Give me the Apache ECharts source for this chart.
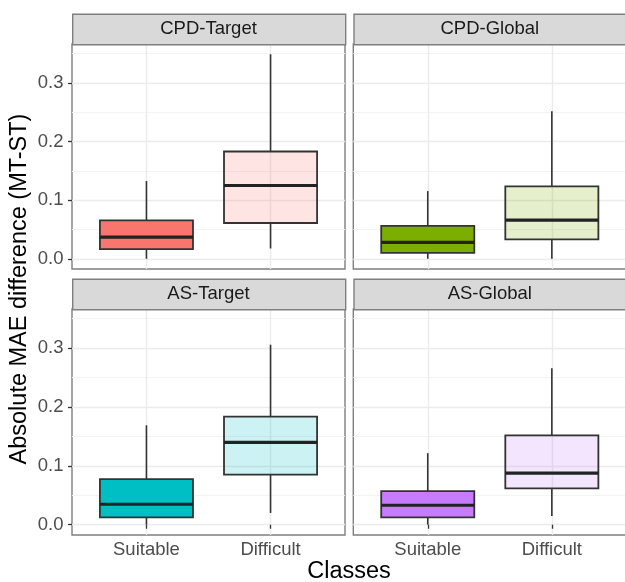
<!DOCTYPE html>
<html>
<head>
<meta charset="utf-8">
<script src="https://cdn.jsdelivr.net/npm/echarts@6/dist/echarts.min.js"></script>
<style>
  html, body { margin: 0; padding: 0; background: #ffffff; }
  #chart { width: 625px; height: 582px; }
</style>
</head>
<body>
<div id="chart"></div>
<script>
// Facet titles and x categories
const panels = ['CPD-Target', 'CPD-Global', 'AS-Target', 'AS-Global'];
const classes = ['Suitable', 'Difficult'];

// Box statistics per class: [lower whisker, Q1, median, Q3, upper whisker]
const cpdTargetSuitable  = [0.000, 0.0165, 0.0370, 0.0655, 0.1326];
const cpdTargetDifficult = [0.0176, 0.0610, 0.1250, 0.1830, 0.3490];
const cpdGlobalSuitable  = [0.000, 0.0102, 0.0279, 0.0563, 0.1155];
const cpdGlobalDifficult = [0.000, 0.0330, 0.0660, 0.1235, 0.2516];
const asTargetSuitable   = [0.000, 0.0125, 0.0348, 0.0776, 0.1689];
const asTargetDifficult  = [0.0200, 0.0850, 0.1398, 0.1837, 0.3058];
const asGlobalSuitable   = [0.000, 0.0125, 0.0331, 0.0570, 0.1215];
const asGlobalDifficult  = [0.0148, 0.0616, 0.0878, 0.1517, 0.2658];

// Axis ticks
const yTicks = [0, 0.1, 0.2, 0.3];
const yMinorTicks = [0.05, 0.15, 0.25, 0.35];
const xTicks = [1, 2];

// Fill colours per panel: solid for Suitable, translucent for Difficult
const panelColors = ['#F8766D', '#7CAE00', '#00BFC4', '#C77CFF'];
const panelColorsLight = ['rgba(248,118,109,0.2)', 'rgba(124,174,0,0.2)', 'rgba(0,191,196,0.2)', 'rgba(199,124,255,0.2)'];

const panelStats = [
  [cpdTargetSuitable, cpdTargetDifficult],
  [cpdGlobalSuitable, cpdGlobalDifficult],
  [asTargetSuitable, asTargetDifficult],
  [asGlobalSuitable, asGlobalDifficult]
];

// Shared y range (data range plus 5% padding)
const yMin = -0.01745;
const yMax = 0.36645;

// Layout of the 2x2 facet grid
const colLeft = [72, 353.3];
const panelW = 273;
const rowTop = [44, 309];
const panelH = [225, 226];
const stripH = 30.5;

const fontFamily = '"Liberation Sans", Arial, Helvetica, sans-serif';
const borderColor = '#7f7f7f';

const grids = [], xAxes = [], yAxes = [], series = [], graphics = [];

panels.forEach((name, i) => {
  const col = i % 2, row = Math.floor(i / 2);
  const left = colLeft[col], top = rowTop[row], h = panelH[row];
  grids.push({
    left: left, top: top, width: panelW, height: h,
    show: true, backgroundColor: '#ffffff',
    borderColor: borderColor, borderWidth: 1.4,
    containLabel: false, outerBoundsMode: 'none'
  });
  const showX = row === 1, showY = col === 0;
  xAxes.push({
    type: 'value', gridIndex: i, min: 0.4, max: 2.6,
    axisLine: { show: false },
    axisTick: { show: showX, customValues: xTicks, length: 4, lineStyle: { color: '#333333', width: 1.3 } },
    axisLabel: {
      show: showX, customValues: xTicks, margin: 5,
      color: '#4D4D4D', fontSize: 18.5, fontFamily: fontFamily,
      formatter: v => classes[Math.round(v) - 1]
    },
    splitLine: { show: true, lineStyle: { color: '#EBEBEB', width: 1.4 } }
  });
  // major y axis
  yAxes.push({
    type: 'value', gridIndex: i, min: yMin, max: yMax, position: 'left',
    axisLine: { show: false },
    axisTick: { show: showY, customValues: yTicks, length: 4, lineStyle: { color: '#333333', width: 1.3 } },
    axisLabel: {
      show: showY, customValues: yTicks, margin: 8.5,
      color: '#4D4D4D', fontSize: 18.5, fontFamily: fontFamily,
      formatter: v => v.toFixed(1)
    },
    splitLine: { show: true, lineStyle: { color: '#EBEBEB', width: 1.4 } }
  });
  // minor y gridlines
  yAxes.push({
    type: 'value', gridIndex: i, min: yMin, max: yMax, position: 'right',
    axisLine: { show: false },
    axisTick: { show: false, customValues: yMinorTicks },
    axisLabel: { show: false, customValues: yMinorTicks },
    splitLine: { show: true, lineStyle: { color: '#F3F3F3', width: 1 } }
  });

  const data = panelStats[i].map((s, k) => ({
    value: [xTicks[k]].concat(s),
    itemStyle: { color: k === 0 ? panelColors[i] : panelColorsLight[i] }
  }));
  series.push({
    type: 'custom', name: name,
    xAxisIndex: i, yAxisIndex: 2 * i,
    encode: { x: 0, y: [1, 2, 3, 4, 5] },
    silent: true, z: 5,
    data: data,
    renderItem: (params, api) => {
      const x = api.value(0);
      const pLo = api.coord([x, api.value(1)]);
      const pQ1 = api.coord([x, api.value(2)]);
      const pMed = api.coord([x, api.value(3)]);
      const pQ3 = api.coord([x, api.value(4)]);
      const pHi = api.coord([x, api.value(5)]);
      const bw = api.size([1, 0])[0] * 0.75;
      const cx = pMed[0];
      const line = { stroke: '#333333', lineWidth: 1.6 };
      return {
        type: 'group',
        children: [
          { type: 'line', shape: { x1: cx, y1: pHi[1], x2: cx, y2: pQ3[1] }, style: line },
          { type: 'line', shape: { x1: cx, y1: pQ1[1], x2: cx, y2: pLo[1] }, style: line },
          { type: 'rect', shape: { x: cx - bw / 2, y: pQ3[1], width: bw, height: pQ1[1] - pQ3[1] },
            style: { fill: api.visual('color'), stroke: '#333333', lineWidth: 1.8 } },
          { type: 'line', shape: { x1: cx - bw / 2, y1: pMed[1], x2: cx + bw / 2, y2: pMed[1] },
            style: { stroke: '#222222', lineWidth: 3.2 } }
        ]
      };
    }
  });

  // facet strip
  graphics.push({
    type: 'rect', left: left, top: top - stripH, z: 10,
    shape: { width: panelW, height: stripH },
    style: { fill: '#D9D9D9', stroke: borderColor, lineWidth: 1.4 }
  });
  graphics.push({
    type: 'text', x: left + panelW / 2, y: top - stripH / 2, z: 11,
    style: {
      text: name, fill: '#1A1A1A', fontSize: 18.5, fontFamily: fontFamily,
      align: 'center', verticalAlign: 'middle'
    }
  });
});

// axis titles
graphics.push({
  type: 'text', x: 20, y: 289, rotation: Math.PI / 2, z: 11,
  style: {
    text: 'Absolute MAE difference (MT-ST)', fill: '#000000', fontSize: 23.5, fontFamily: fontFamily,
    align: 'center', verticalAlign: 'middle'
  }
});
graphics.push({
  type: 'text', x: 349, y: 572, z: 11,
  style: {
    text: 'Classes', fill: '#000000', fontSize: 23.5, fontFamily: fontFamily,
    align: 'center', verticalAlign: 'middle'
  }
});

const chart = echarts.init(document.getElementById('chart'), null, { renderer: 'canvas' });
chart.setOption({
  animation: false,
  backgroundColor: '#ffffff',
  grid: grids,
  xAxis: xAxes,
  yAxis: yAxes,
  series: series,
  graphic: { elements: graphics }
});
</script>
</body>
</html>
